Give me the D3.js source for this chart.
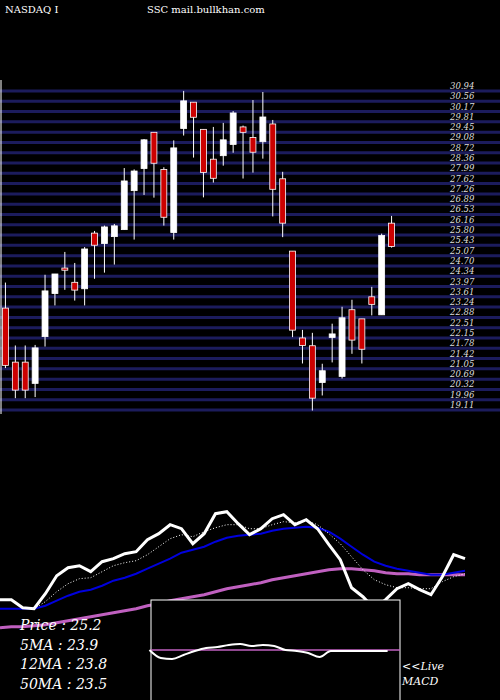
<!DOCTYPE html>
<html><head><meta charset="utf-8">
<script src="https://cdn.jsdelivr.net/npm/d3@7"></script>
<style>body{margin:0;background:#000}svg{display:block}</style>
</head><body><svg id="c" width="500" height="700"></svg>
<script>
// candles: open, high, low, close
const opens =[22.64,20.63,20.63,19.84,21.58,23.18,24.13,23.60,23.36,25.43,25.04,25.30,25.56,27.01,27.83,29.18,27.80,25.45,29.32,30.30,29.29,28.18,28.31,28.73,29.38,28.99,28.83,29.49,27.45,24.76,21.53,21.24,19.87,21.55,20.10,22.58,22.24,23.06,22.39,25.80];
const highs =[23.59,21.25,21.25,21.27,23.88,23.91,24.73,24.32,24.91,25.51,25.71,25.77,27.85,27.80,28.93,29.18,27.88,28.88,30.72,30.30,29.29,29.38,29.53,29.97,29.43,30.38,30.68,29.64,27.71,24.76,21.83,21.72,20.57,22.06,22.69,22.95,22.24,23.43,25.41,26.07];
const lows  =[20.41,19.29,19.29,19.33,21.21,22.74,23.32,22.92,22.74,23.73,23.96,24.26,25.56,25.19,26.85,26.75,25.71,25.19,29.06,28.24,26.76,27.31,27.94,28.42,27.46,27.68,28.20,26.05,25.28,21.56,20.58,18.83,19.39,20.62,20.02,20.94,20.58,22.37,22.39,24.89];
const closes=[20.51,19.59,19.59,21.16,23.28,23.91,24.05,23.31,24.84,24.98,25.66,25.70,27.37,27.74,28.90,28.03,26.02,28.60,30.35,29.74,27.69,27.47,28.90,29.90,29.18,28.44,29.75,27.06,25.80,21.82,21.25,19.29,20.31,21.68,22.28,21.45,21.11,22.78,25.34,24.93];
const tickLabels=["30.94","30.56","30.17","29.81","29.45","29.08","28.72","28.36","27.99","27.62","27.26","26.89","26.53","26.16","25.80","25.43","25.07","24.70","24.34","23.97","23.61","23.24","22.88","22.51","22.15","21.78","21.42","21.05","20.69","20.32","19.96","19.11"];
// lower panel (relative units)
const priceLine=[17,17,9,8,23,41,49,51,45,55,58,63,65,77,83,92,88,73,83,103,105,93,82,88,98,102,92,97,88,72,57,29,20,8,17,28,33,27,22,40,62,58];
const ma5=[null,null,null,8,15,25,33,38,39,45,51,54,56,62,70,78,82,80,85,89,92,92,88,88,92,95,94,96,92,83,73,60,47,37,32,29,29,28,28,35,40,43];
const ma12=[8,8,8,8,11,16,21,25,27,31,36,39,43,48,53,58,64,67,70,75,79,81,82,83,86,88,89,90,89,85,78,70,62,55,51,48,46,44,42,42,44,46];
const ma50=[-11,-10,-10,-9,-8,-6,-4,-2,0,2,4,6,8,11,13,16,18,20,22,25,28,30,32,34,37,39,41,43,45,47,48,48,47,46,44,43,43,42,42,42,42,42];
const macd=[null,null,null,null,null,null,null,null,null,null,null,null,null,0,-8,-9,-5,-1,2,3,5,6,4,5,4,0,-1,-3,-7,-1,-1,-1,-1,-1,-1];
const legend=["Price   : 25.2","5MA : 23.9","12MA : 23.8","50MA : 23.5"];

const svg=d3.select("#c");
svg.append("rect").attr("width",500).attr("height",700).attr("fill","#000");
const serif="'DejaVu Serif','Liberation Serif',serif";
svg.append("text").attr("x",5).attr("y",13).attr("fill","#fff").attr("font-family",serif).attr("font-size",10).text("NASDAQ I");
svg.append("text").attr("x",147).attr("y",13).attr("fill","#fff").attr("font-family",serif).attr("font-size",10).text("SSC mail.bullkhan.com");

// grid lines
const yl=d3.scalePoint().domain(d3.range(tickLabels.length)).range([91,410]);
svg.selectAll(".g").data(tickLabels).join("line").attr("x1",0).attr("x2",500)
 .attr("y1",(d,i)=>yl(i)).attr("y2",(d,i)=>yl(i)).attr("stroke","#1c1c5c").attr("stroke-width",3);
svg.selectAll(".tl").data(tickLabels).join("text").attr("x",450).attr("y",(d,i)=>yl(i)-2)
 .attr("fill","#ddd").attr("font-family",serif).attr("font-style","italic").attr("font-size",8.5).text(d=>d);
svg.append("line").attr("x1",1).attr("x2",1).attr("y1",80).attr("y2",414).attr("stroke","#fff");

const y=d3.scaleLinear().domain([19.11,30.94]).range([403,85]);
const x=d3.scaleBand().domain(d3.range(opens.length)).range([-1.5,398.5]).padding(0.4);
const g=svg.append("g");
opens.forEach((o,i)=>{
  const c=closes[i],cx=x(i)+x.bandwidth()/2,up=c>=o;
  g.append("line").attr("x1",cx).attr("x2",cx).attr("y1",y(highs[i])).attr("y2",y(lows[i])).attr("stroke","#fff");
  g.append("rect").attr("x",x(i)).attr("width",x.bandwidth())
   .attr("y",y(Math.max(o,c))).attr("height",Math.max(1.5,Math.abs(y(o)-y(c))))
   .attr("fill",up?"#fff":"#cc0000").attr("stroke","#fff").attr("stroke-width",0.8);
});

// lower panel
const xb=d3.scaleLinear().domain([0,41]).range([0,465]);
const yb=d3.scaleLinear().domain([0,100]).range([616.7,516.7]);
const ln=d3.line().defined(d=>d!=null).x((d,i)=>xb(i)).y(d=>yb(d));
svg.append("path").attr("d",ln(ma50)).attr("fill","none").attr("stroke","#c060c0").attr("stroke-width",3);
svg.append("path").attr("d",ln(ma12)).attr("fill","none").attr("stroke","#0000dd").attr("stroke-width",2);
svg.append("path").attr("d",ln(ma5)).attr("fill","none").attr("stroke","#fff").attr("stroke-width",1).attr("stroke-dasharray","1,2");
svg.append("path").attr("d",ln(priceLine)).attr("fill","none").attr("stroke","#fff").attr("stroke-width",3);

// MACD box
svg.append("rect").attr("x",151).attr("y",600).attr("width",249).attr("height",102).attr("fill","#000").attr("stroke","#fff");
const ym=d3.scaleLinear().domain([0,10]).range([650,640]);
svg.append("line").attr("x1",151).attr("x2",400).attr("y1",ym(0)).attr("y2",ym(0)).attr("stroke","#c060c0").attr("stroke-width",1.5);
const lm=d3.line().defined(d=>d!=null).x((d,i)=>xb(i)+2).y(d=>ym(d)).curve(d3.curveMonotoneX);
svg.append("path").attr("d",lm(macd)).attr("fill","none").attr("stroke","#fff").attr("stroke-width",2);

svg.selectAll(".lg").data(legend).join("text").attr("x",20).attr("y",(d,i)=>630+i*19.5)
 .attr("fill","#fff").attr("font-family",serif).attr("font-style","italic").attr("font-size",14).text(d=>d);
svg.append("text").attr("x",402).attr("y",670).attr("fill","#fff").attr("font-family",serif).attr("font-style","italic").attr("font-size",11).text("<<Live");
svg.append("text").attr("x",402).attr("y",685).attr("fill","#fff").attr("font-family",serif).attr("font-style","italic").attr("font-size",11).text("MACD");
</script></body></html>
